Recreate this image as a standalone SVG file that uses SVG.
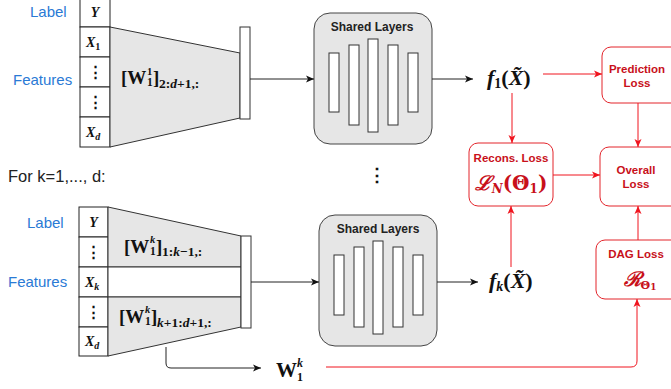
<svg xmlns="http://www.w3.org/2000/svg" width="671" height="389" viewBox="0 0 671 389">
<style>
.cell{fill:#fff;stroke:#222;stroke-width:1}
.trap{fill:#e6e6e6;stroke:#333;stroke-width:1}
.bar{fill:#fff;stroke:#333;stroke-width:1}
.shared{fill:#e6e6e6;stroke:#444;stroke-width:1}
.title{font-family:"Liberation Sans",Arial,sans-serif;font-weight:bold;font-size:12px;fill:#222;text-anchor:middle}
.lbl{font-family:"Liberation Sans",Arial,sans-serif;font-size:15px;fill:#2a7ad5}
.m{font-family:"Liberation Serif","DejaVu Serif",serif;font-weight:bold;fill:#111}
.mi{font-style:italic}
.red{fill:#fff;stroke:#e3242b;stroke-width:1}
.rt{font-family:"Liberation Sans",Arial,sans-serif;font-weight:bold;font-size:11.5px;fill:#c8101a;text-anchor:middle}
.rm{font-family:"DejaVu Serif","Liberation Serif",serif;font-weight:bold;fill:#c8101a}
.bk{stroke:#222;stroke-width:1;fill:none}
.rl{stroke:#f0141e;stroke-width:1;fill:none}
</style>
<defs>
<marker id="ab" markerWidth="10" markerHeight="10" refX="9" refY="5" orient="auto" markerUnits="userSpaceOnUse">
<path d="M1,1.5 L9,5 L1,8.5 L3,5 z" fill="#111"/>
</marker>
<marker id="ar" markerWidth="10" markerHeight="10" refX="9" refY="5" orient="auto" markerUnits="userSpaceOnUse">
<path d="M1,1.5 L9,5 L1,8.5 L3,5 z" fill="#f0141e"/>
</marker>
</defs>

<!-- Top input encoder -->
<g id="top-input">
<rect class="cell" x="80" y="-3" width="30" height="30"/>
<rect class="cell" x="80" y="27" width="30" height="30"/>
<rect class="cell" x="80" y="57" width="30" height="30"/>
<rect class="cell" x="80" y="87" width="30" height="30"/>
<rect class="cell" x="80" y="117" width="30" height="30"/>
<text class="m mi" x="95" y="17" font-size="14" text-anchor="middle">Y</text>
<text class="m mi" x="86" y="47" font-size="14">X<tspan font-size="10" dy="3" font-style="normal">1</tspan></text>
<text class="m" x="95" y="77" font-size="15" text-anchor="middle">⋮</text>
<text class="m" x="95" y="107" font-size="15" text-anchor="middle">⋮</text>
<text class="m mi" x="86" y="137" font-size="14">X<tspan font-size="10" dy="3">d</tspan></text>
<text class="lbl" x="30" y="17">Label</text>
<text class="lbl" x="13" y="85">Features</text>
</g>
<g id="top-weights">
<polygon class="trap" points="110,27 240,53 240,118 110,147"/>
<rect class="bar" x="240" y="27" width="10" height="92"/>
<text class="m" x="121" y="84" font-size="19">[W</text>
<text class="m" x="147" y="75" font-size="10.5">1</text>
<text class="m" x="147" y="86" font-size="11.5">1</text>
<text class="m" x="153" y="84" font-size="19">]</text>
<text class="m" x="159" y="88" font-size="13.5">2:<tspan class="mi">d</tspan>+1,:</text>
</g>
<g id="top-shared">
<rect class="shared" x="314" y="13" width="118" height="131" rx="16"/>
<text class="title" x="372" y="31">Shared Layers</text>
<rect class="bar" x="329" y="53" width="10" height="59"/>
<rect class="bar" x="349" y="45" width="10" height="80"/>
<rect class="bar" x="368" y="39" width="10" height="93"/>
<rect class="bar" x="388" y="45" width="10" height="80"/>
<rect class="bar" x="408" y="53" width="10" height="59"/>
</g>
<g id="f1">
<text class="m" x="487" y="85" font-size="22"><tspan class="mi">f</tspan><tspan font-size="14" dy="3">1</tspan><tspan dy="-3">(</tspan><tspan class="mi">X̃</tspan>)</text>
</g>

<text id="dots" class="m" x="377" y="181" font-size="18" text-anchor="middle">⋮</text>
<text id="for-k" x="8" y="182" font-family="Liberation Sans,Arial,sans-serif" font-size="16.5" fill="#222">For k=1,..., d:</text>

<!-- Bottom input encoder -->
<g id="bottom-input">
<rect class="cell" x="79" y="207" width="29" height="30"/>
<rect class="cell" x="79" y="237" width="29" height="30"/>
<rect class="cell" x="79" y="267" width="29" height="30"/>
<rect class="cell" x="79" y="297" width="29" height="30"/>
<rect class="cell" x="79" y="327" width="29" height="29"/>
<text class="m mi" x="93.5" y="227" font-size="14" text-anchor="middle">Y</text>
<text class="m" x="93.5" y="257" font-size="15" text-anchor="middle">⋮</text>
<text class="m mi" x="85" y="287" font-size="14">X<tspan font-size="10" dy="3">k</tspan></text>
<text class="m" x="93.5" y="317" font-size="15" text-anchor="middle">⋮</text>
<text class="m mi" x="85" y="346" font-size="14">X<tspan font-size="10" dy="3">d</tspan></text>
<text class="lbl" x="27" y="228">Label</text>
<text class="lbl" x="8" y="287">Features</text>
</g>
<g id="bottom-weights">
<polygon class="trap" points="108,207 241,236 241,267 108,267"/>
<rect x="108" y="267" width="133" height="30" fill="#fff" stroke="#333"/>
<polygon class="trap" points="108,297 241,297 241,327 108,356"/>
<rect class="bar" x="241" y="236" width="10" height="92"/>
<text class="m" x="124" y="253" font-size="19">[W</text>
<text class="m mi" x="150" y="243" font-size="10.5">k</text>
<text class="m" x="150" y="255" font-size="11.5">1</text>
<text class="m" x="156" y="253" font-size="19">]</text>
<text class="m" x="162" y="256" font-size="13.5">1:<tspan class="mi">k</tspan>−1,:</text>
<text class="m" x="119" y="323" font-size="19">[W</text>
<text class="m mi" x="145" y="313" font-size="10.5">k</text>
<text class="m" x="145" y="325" font-size="11.5">1</text>
<text class="m" x="151" y="323" font-size="19">]</text>
<text class="m" x="157" y="327" font-size="13.5"><tspan class="mi">k</tspan>+1:<tspan class="mi">d</tspan>+1,:</text>
</g>
<g id="bottom-shared">
<rect class="shared" x="319" y="215" width="118" height="131" rx="16"/>
<text class="title" x="378" y="233">Shared Layers</text>
<rect class="bar" x="334" y="255" width="10" height="60"/>
<rect class="bar" x="354" y="247" width="10" height="80"/>
<rect class="bar" x="373" y="241" width="10" height="93"/>
<rect class="bar" x="393" y="247" width="10" height="80"/>
<rect class="bar" x="413" y="255" width="10" height="60"/>
</g>
<g id="fk">
<text class="m" x="489" y="288" font-size="22"><tspan class="mi">f</tspan><tspan class="mi" font-size="14" dy="3">k</tspan><tspan dy="-3">(</tspan><tspan class="mi">X̃</tspan>)</text>
</g>
<g id="w1k">
<text class="m" x="276" y="377" font-size="21">W</text>
<text class="m mi" x="297" y="367" font-size="12">k</text>
<text class="m" x="297" y="381" font-size="12">1</text>
</g>

<!-- Loss boxes -->
<g id="prediction-loss">
<rect class="red" x="602" y="47" width="80" height="56" rx="9"/>
<text class="rt" x="637" y="73">Prediction</text>
<text class="rt" x="637" y="87">Loss</text>
</g>
<g id="recons-loss">
<rect class="red" x="469" y="143" width="84" height="63" rx="9"/>
<text class="rt" x="511" y="162">Recons. Loss</text>
<text class="rm" x="511" y="190" font-size="20" text-anchor="middle"><tspan font-style="italic">ℒ</tspan><tspan font-size="12" font-style="italic" dy="3">N</tspan><tspan dy="-3">(Θ</tspan><tspan font-size="12" dy="3">1</tspan><tspan dy="-3">)</tspan></text>
</g>
<g id="overall-loss">
<rect class="red" x="600" y="147" width="80" height="59" rx="9"/>
<text class="rt" x="636" y="174">Overall</text>
<text class="rt" x="636" y="188">Loss</text>
</g>
<g id="dag-loss">
<rect class="red" x="596" y="240" width="85" height="59" rx="9"/>
<text class="rt" x="636" y="258">DAG Loss</text>
<text class="rm" x="640" y="286" font-size="20" text-anchor="middle"><tspan font-style="italic">ℛ</tspan><tspan font-size="11" dy="3">Θ</tspan><tspan font-size="9" dy="1">1</tspan></text>
</g>

<g id="connectors">
<line class="bk" x1="250" y1="79" x2="314" y2="79" marker-end="url(#ab)"/>
<line class="bk" x1="432" y1="79" x2="473" y2="79" marker-end="url(#ab)"/>
<line class="bk" x1="251" y1="282" x2="319" y2="282" marker-end="url(#ab)"/>
<line class="bk" x1="437" y1="282" x2="478" y2="282" marker-end="url(#ab)"/>
<path class="bk" d="M166,347 V363 Q166,368 171,368 H261" marker-end="url(#ab)"/>
<line class="rl" x1="543" y1="74" x2="602" y2="74" marker-end="url(#ar)"/>
<line class="rl" x1="512" y1="93" x2="512" y2="143" marker-end="url(#ar)"/>
<line class="rl" x1="553" y1="175" x2="600" y2="175" marker-end="url(#ar)"/>
<line class="rl" x1="638" y1="103" x2="638" y2="147" marker-end="url(#ar)"/>
<line class="rl" x1="511" y1="267" x2="511" y2="206" marker-end="url(#ar)"/>
<line class="rl" x1="638" y1="240" x2="638" y2="206" marker-end="url(#ar)"/>
<path class="rl" d="M326,367 H631 Q637,367 637,361 V299" marker-end="url(#ar)"/>
</g>
</svg>
